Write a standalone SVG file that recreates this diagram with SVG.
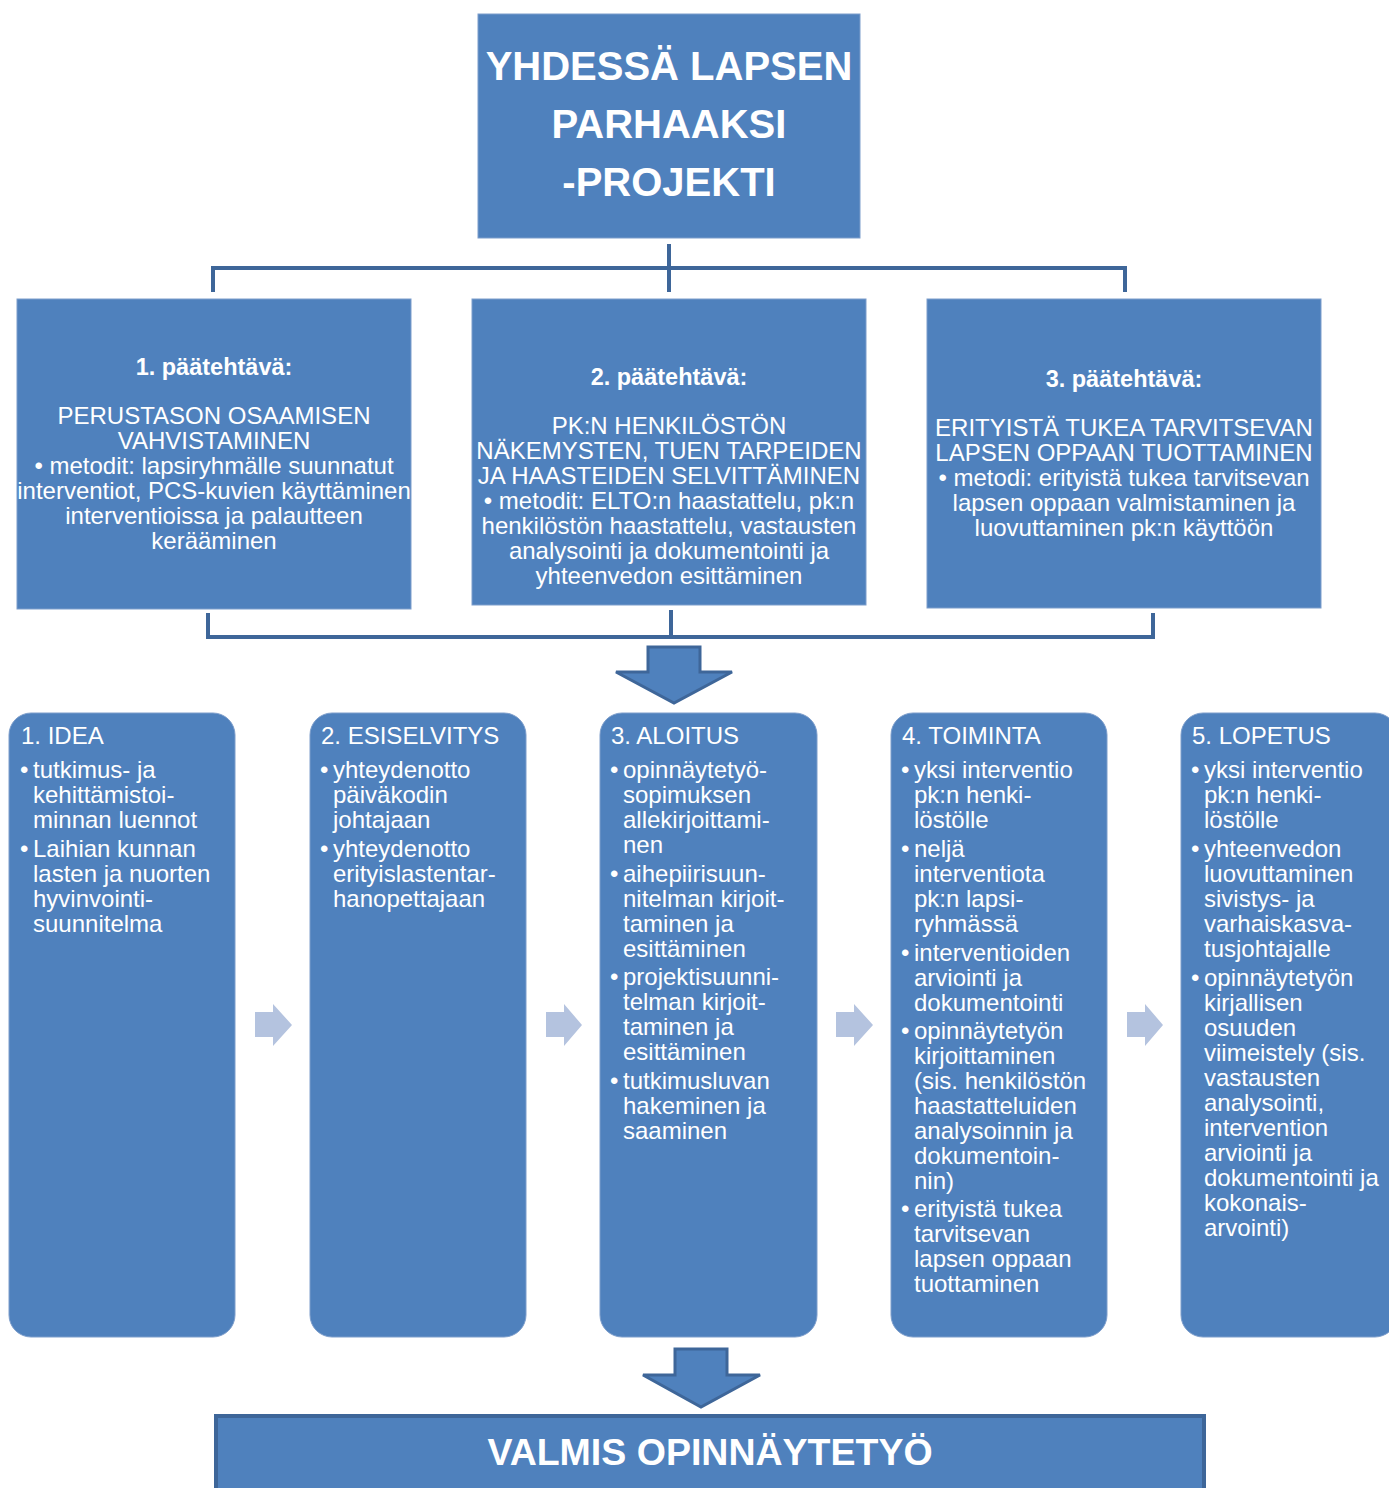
<svg xmlns="http://www.w3.org/2000/svg" width="1389" height="1488" viewBox="0 0 1389 1488">
<style>
.box{fill:#4F81BD;stroke:#7C9DCB;stroke-width:1}
.conn{fill:none;stroke:#3E6699;stroke-width:4}
.big{fill:#4F81BD;stroke:#3E6699;stroke-width:3;stroke-linejoin:miter}
.sm{fill:#B4C3DF}
text{font-family:"Liberation Sans",Arial,sans-serif;fill:#FFFFFF}
.t{font-size:40px;font-weight:bold;text-anchor:middle}
.h{font-size:23.5px;font-weight:bold;text-anchor:middle}
.c{font-size:24px;text-anchor:middle}
.p{font-size:24px}
.fin{font-size:37.5px;font-weight:bold;text-anchor:middle}
</style>
<rect width="1389" height="1488" fill="#FFFFFF"/>

<g id="title">
<rect class="box" x="478" y="14" width="382" height="224"/>
<text class="t" x="669" y="80">YHDESSÄ LAPSEN</text>
<text class="t" x="669" y="138">PARHAAKSI</text>
<text class="t" x="669" y="196">-PROJEKTI</text>
</g>

<g id="connectors">
<path class="conn" d="M669 244 V292 M213 292 V268 H1125 V292"/>
<path class="conn" d="M208 613 V637 H1153 V613 M671 610 V637"/>
<polygon class="big" points="648,647 700,647 700,672 732,672 674,703 616,672 648,672"/>
<polygon class="big" points="675,1349 727,1349 727,1375 760,1375 701,1407 643,1375 675,1375"/>
<polygon class="sm" points="255,1012 273,1012 273,1004 292,1025 273,1046 273,1037 255,1037"/>
<polygon class="sm" points="546,1012 564,1012 564,1004 582,1025 564,1046 564,1037 546,1037"/>
<polygon class="sm" points="836,1012 854,1012 854,1004 873,1025 854,1046 854,1037 836,1037"/>
<polygon class="sm" points="1127,1012 1145,1012 1145,1004 1163,1025 1145,1046 1145,1037 1127,1037"/>
</g>

<g id="task1">
<rect class="box" x="17" y="299" width="394" height="310"/>
<text class="h" x="214" y="375">1. päätehtävä:</text>
<text class="c" x="214" y="424">PERUSTASON OSAAMISEN</text>
<text class="c" x="214" y="449">VAHVISTAMINEN</text>
<text class="c" x="214" y="474">• metodit: lapsiryhmälle suunnatut</text>
<text class="c" x="214" y="499">interventiot, PCS-kuvien käyttäminen</text>
<text class="c" x="214" y="524">interventioissa ja palautteen</text>
<text class="c" x="214" y="549">kerääminen</text>
</g>

<g id="task2">
<rect class="box" x="472" y="299" width="394" height="306"/>
<text class="h" x="669" y="385">2. päätehtävä:</text>
<text class="c" x="669" y="434">PK:N HENKILÖSTÖN</text>
<text class="c" x="669" y="459">NÄKEMYSTEN, TUEN TARPEIDEN</text>
<text class="c" x="669" y="484">JA HAASTEIDEN SELVITTÄMINEN</text>
<text class="c" x="669" y="509">• metodit: ELTO:n haastattelu, pk:n</text>
<text class="c" x="669" y="534">henkilöstön haastattelu, vastausten</text>
<text class="c" x="669" y="559">analysointi ja dokumentointi ja</text>
<text class="c" x="669" y="584">yhteenvedon esittäminen</text>
</g>

<g id="task3">
<rect class="box" x="927" y="299" width="394" height="309"/>
<text class="h" x="1124" y="387">3. päätehtävä:</text>
<text class="c" x="1124" y="436">ERITYISTÄ TUKEA TARVITSEVAN</text>
<text class="c" x="1124" y="461">LAPSEN OPPAAN TUOTTAMINEN</text>
<text class="c" x="1124" y="486">• metodi: erityistä tukea tarvitsevan</text>
<text class="c" x="1124" y="511">lapsen oppaan valmistaminen ja</text>
<text class="c" x="1124" y="536">luovuttaminen pk:n käyttöön</text>
</g>

<g id="phase1">
<rect class="box" x="9" y="713" width="226" height="624" rx="22"/>
<text class="p" x="21" y="744">1. IDEA</text>
<text class="p"><tspan x="20" y="778">•</tspan><tspan x="33" y="778">tutkimus- ja</tspan><tspan x="33" y="803">kehittämistoi-</tspan><tspan x="33" y="828">minnan luennot</tspan><tspan x="20" y="857">•</tspan><tspan x="33" y="857">Laihian kunnan</tspan><tspan x="33" y="882">lasten ja nuorten</tspan><tspan x="33" y="907">hyvinvointi-</tspan><tspan x="33" y="932">suunnitelma</tspan></text>
</g>

<g id="phase2">
<rect class="box" x="310" y="713" width="216" height="624" rx="22"/>
<text class="p" x="321" y="744">2. ESISELVITYS</text>
<text class="p"><tspan x="320" y="778">•</tspan><tspan x="333" y="778">yhteydenotto</tspan><tspan x="333" y="803">päiväkodin</tspan><tspan x="333" y="828">johtajaan</tspan><tspan x="320" y="857">•</tspan><tspan x="333" y="857">yhteydenotto</tspan><tspan x="333" y="882">erityislastentar-</tspan><tspan x="333" y="907">hanopettajaan</tspan></text>
</g>

<g id="phase3">
<rect class="box" x="600" y="713" width="217" height="624" rx="22"/>
<text class="p" x="611" y="744">3. ALOITUS</text>
<text class="p"><tspan x="610" y="778">•</tspan><tspan x="623" y="778">opinnäytetyö-</tspan><tspan x="623" y="803">sopimuksen</tspan><tspan x="623" y="828">allekirjoittami-</tspan><tspan x="623" y="853">nen</tspan><tspan x="610" y="882">•</tspan><tspan x="623" y="882">aihepiirisuun-</tspan><tspan x="623" y="907">nitelman kirjoit-</tspan><tspan x="623" y="932">taminen ja</tspan><tspan x="623" y="957">esittäminen</tspan><tspan x="610" y="985">•</tspan><tspan x="623" y="985">projektisuunni-</tspan><tspan x="623" y="1010">telman kirjoit-</tspan><tspan x="623" y="1035">taminen ja</tspan><tspan x="623" y="1060">esittäminen</tspan><tspan x="610" y="1089">•</tspan><tspan x="623" y="1089">tutkimusluvan</tspan><tspan x="623" y="1114">hakeminen ja</tspan><tspan x="623" y="1139">saaminen</tspan></text>
</g>

<g id="phase4">
<rect class="box" x="891" y="713" width="216" height="624" rx="22"/>
<text class="p" x="902" y="744">4. TOIMINTA</text>
<text class="p"><tspan x="901" y="778">•</tspan><tspan x="914" y="778">yksi interventio</tspan><tspan x="914" y="803">pk:n henki-</tspan><tspan x="914" y="828">löstölle</tspan><tspan x="901" y="857">•</tspan><tspan x="914" y="857">neljä</tspan><tspan x="914" y="882">interventiota</tspan><tspan x="914" y="907">pk:n lapsi-</tspan><tspan x="914" y="932">ryhmässä</tspan><tspan x="901" y="961">•</tspan><tspan x="914" y="961">interventioiden</tspan><tspan x="914" y="986">arviointi ja</tspan><tspan x="914" y="1011">dokumentointi</tspan><tspan x="901" y="1039">•</tspan><tspan x="914" y="1039">opinnäytetyön</tspan><tspan x="914" y="1064">kirjoittaminen</tspan><tspan x="914" y="1089">(sis. henkilöstön</tspan><tspan x="914" y="1114">haastatteluiden</tspan><tspan x="914" y="1139">analysoinnin ja</tspan><tspan x="914" y="1164">dokumentoin-</tspan><tspan x="914" y="1189">nin)</tspan><tspan x="901" y="1217">•</tspan><tspan x="914" y="1217">erityistä tukea</tspan><tspan x="914" y="1242">tarvitsevan</tspan><tspan x="914" y="1267">lapsen oppaan</tspan><tspan x="914" y="1292">tuottaminen</tspan></text>
</g>

<g id="phase5">
<rect class="box" x="1181" y="713" width="216" height="624" rx="22"/>
<text class="p" x="1192" y="744">5. LOPETUS</text>
<text class="p"><tspan x="1191" y="778">•</tspan><tspan x="1204" y="778">yksi interventio</tspan><tspan x="1204" y="803">pk:n henki-</tspan><tspan x="1204" y="828">löstölle</tspan><tspan x="1191" y="857">•</tspan><tspan x="1204" y="857">yhteenvedon</tspan><tspan x="1204" y="882">luovuttaminen</tspan><tspan x="1204" y="907">sivistys- ja</tspan><tspan x="1204" y="932">varhaiskasva-</tspan><tspan x="1204" y="957">tusjohtajalle</tspan><tspan x="1191" y="986">•</tspan><tspan x="1204" y="986">opinnäytetyön</tspan><tspan x="1204" y="1011">kirjallisen</tspan><tspan x="1204" y="1036">osuuden</tspan><tspan x="1204" y="1061">viimeistely (sis.</tspan><tspan x="1204" y="1086">vastausten</tspan><tspan x="1204" y="1111">analysointi,</tspan><tspan x="1204" y="1136">intervention</tspan><tspan x="1204" y="1161">arviointi ja</tspan><tspan x="1204" y="1186">dokumentointi ja</tspan><tspan x="1204" y="1211">kokonais-</tspan><tspan x="1204" y="1236">arvointi)</tspan></text>
</g>

<g id="final">
<rect x="216" y="1416" width="988" height="80" fill="#4F81BD" stroke="#3E6699" stroke-width="4"/>
<text class="fin" x="710" y="1465">VALMIS OPINNÄYTETYÖ</text>
</g>
</svg>
